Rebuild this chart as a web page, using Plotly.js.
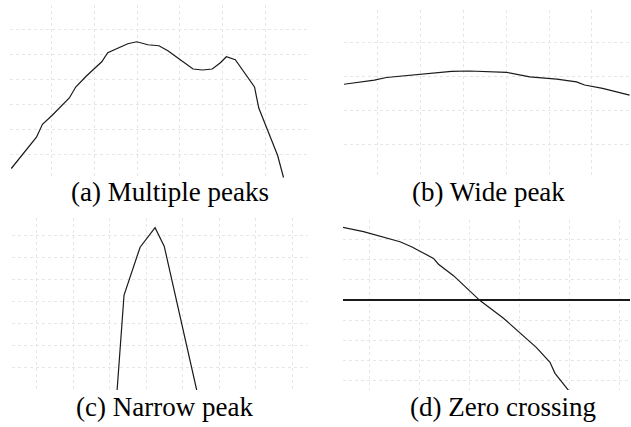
<!DOCTYPE html>
<html>
<head>
<meta charset="utf-8">
<script src="https://cdn.plot.ly/plotly-3.0.1.min.js"></script>
<style>
html,body{margin:0;padding:0;background:#fff;}
#chart{width:631px;height:427px;}
</style>
</head>
<body>
<div id="chart"></div>
<script>
// (a) Multiple peaks
const aX = [0.05,0.64,0.78,1.01,1.41,1.56,1.81,2.17,2.31,2.55,2.78,2.99,3.25,3.51,3.72,4.01,4.31,4.53,4.76,4.95,5.09,5.30,5.59,5.75,5.85,6.06,6.29,6.43];
const aY = [0.44,1.69,2.21,2.57,3.26,3.70,4.14,4.71,5.07,5.27,5.43,5.51,5.39,5.35,5.15,4.79,4.42,4.38,4.42,4.67,4.91,4.79,4.10,3.70,2.86,1.97,0.97,0.08];
// (b) Wide peak
const bX = [0.20,0.92,1.20,1.98,2.72,3.14,4.01,4.55,5.18,5.64,5.83,6.25,6.88];
const bY = [2.77,2.89,2.97,3.07,3.15,3.16,3.12,2.99,2.92,2.84,2.75,2.65,2.45];
// (c) Narrow peak
const cX = [3.20,3.39,3.83,4.24,4.49,5.38];
const cY = [0.00,4.29,6.45,7.33,6.50,0.00];
// (d) Zero crossing
const dX = [0.46,0.88,1.61,1.84,2.28,2.38,2.68,3.21,3.68,4.01,4.34,4.61,4.71,5.00];
const dY = [3.62,3.40,2.90,2.65,2.07,1.78,1.21,-0.03,-0.91,-1.66,-2.37,-3.10,-3.65,-4.56];
const captions = ["(a) Multiple peaks","(b) Wide peak","(c) Narrow peak","(d) Zero crossing"];

const W = 631, H = 427;
const lineStyle = {color:'#1a1a1a', width:1.2};
const traces = [
  {x:aX, y:aY, xaxis:'x', yaxis:'y', mode:'lines', line:lineStyle, hoverinfo:'skip'},
  {x:bX, y:bY, xaxis:'x2', yaxis:'y2', mode:'lines', line:lineStyle, hoverinfo:'skip'},
  {x:cX, y:cY, xaxis:'x3', yaxis:'y3', mode:'lines', line:lineStyle, hoverinfo:'skip'},
  {x:dX, y:dY, xaxis:'x4', yaxis:'y4', mode:'lines', line:lineStyle, hoverinfo:'skip'}
];
function ax(dom, range, extra){
  return Object.assign({domain:dom, range:range, dtick:1, tick0:0, showgrid:true, gridcolor:'#e6e6e6', griddash:'dot', gridwidth:1,
    zeroline:false, showline:false, showticklabels:false, ticks:'', fixedrange:true}, extra||{});
}
const px = (a,b)=>[a/W, b/W];
const py = (top,bottom)=>[1-bottom/H, 1-top/H];
const layout = {
  width:W, height:H, margin:{l:0,r:0,t:0,b:0}, showlegend:false,
  paper_bgcolor:'#fff', plot_bgcolor:'#fff',
  xaxis: ax(px(10,307), [0.02,6.98], {anchor:'y'}),
  yaxis: ax(py(5,179), [0.02,6.98], {anchor:'x'}),
  xaxis2: ax(px(344,630), [0.21,6.89], {anchor:'y2'}),
  yaxis2: ax(py(10,177), [0.05,4.95], {anchor:'x2'}),
  xaxis3: ax(px(12,308), [0.32,8.43], {anchor:'y3'}),
  yaxis3: ax(py(218,390), [0,7.77], {anchor:'x3'}),
  xaxis4: ax(px(343,630), [0.47,6.21], {anchor:'y4'}),
  yaxis4: ax(py(220,390), [-4.48,3.98], {anchor:'x4', zeroline:true, zerolinecolor:'#1a1a1a', zerolinewidth:1.5}),
  annotations: [
    {text:captions[0], x:170/W, y:1-192/H},
    {text:captions[1], x:488/W, y:1-192/H},
    {text:captions[2], x:164/W, y:1-407/H},
    {text:captions[3], x:503/W, y:1-407/H}
  ].map(a=>Object.assign({xref:'paper', yref:'paper', showarrow:false, xanchor:'center', yanchor:'middle',
    font:{family:'Liberation Serif', size:27, color:'#000'}}, a))
};
Plotly.newPlot('chart', traces, layout, {staticPlot:true});
</script>
</body>
</html>
